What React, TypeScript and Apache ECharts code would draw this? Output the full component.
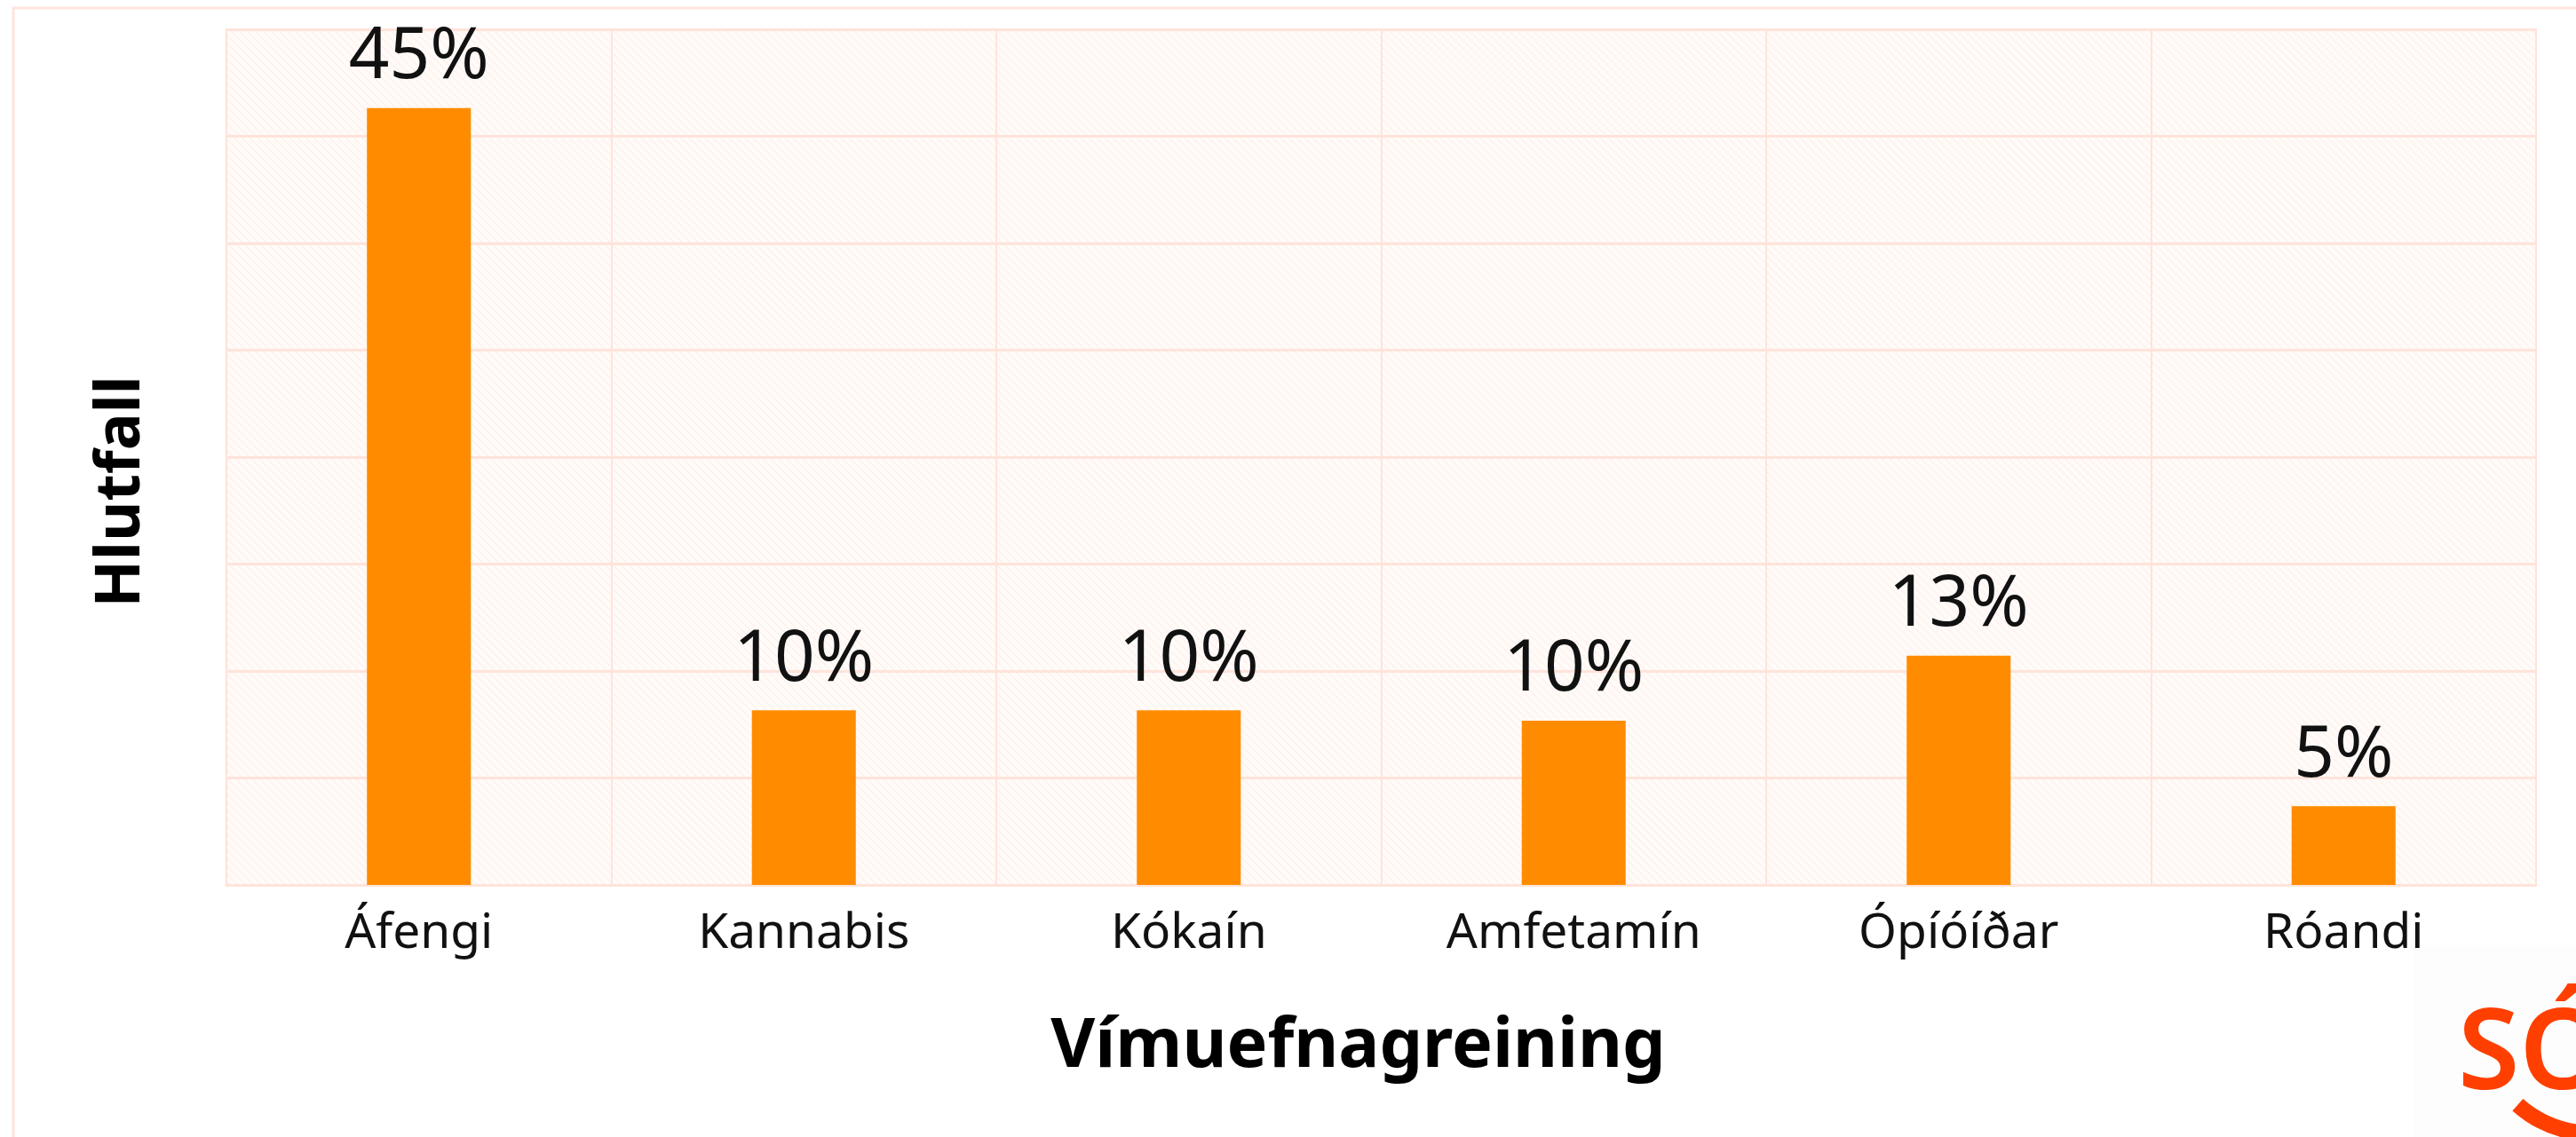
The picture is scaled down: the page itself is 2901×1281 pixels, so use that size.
import React, { useEffect, useRef } from "react";
import * as echarts from "echarts";

const categories = ["Áfengi", "Kannabis", "Kókaín", "Amfetamín", "Ópíóíðar", "Róandi"];
const shares = [45.4, 10.2, 10.2, 9.6, 13.4, 4.6];
const yMax = 50;
const yStep = 6.25;
const xTitle = "Vímuefnagreining";
const yTitle = "Hlutfall";
const logoText = "SÓ";

function makeHatch() {
  const s = 9;
  const c = document.createElement("canvas");
  c.width = s;
  c.height = s;
  const ctx = c.getContext("2d");
  if (ctx) {
    ctx.fillStyle = "#fffbf9";
    ctx.fillRect(0, 0, s, s);
    ctx.strokeStyle = "rgba(255,205,190,0.28)";
    ctx.lineWidth = 1.2;
    ctx.beginPath();
    ctx.moveTo(-1, -1);
    ctx.lineTo(s + 1, s + 1);
    ctx.moveTo(-1, s - 1);
    ctx.lineTo(1, s + 1);
    ctx.moveTo(s - 1, -1);
    ctx.lineTo(s + 1, 1);
    ctx.stroke();
  }
  return { image: c, repeat: "repeat", imageWidth: s, imageHeight: s };
}

export default function App() {
  const ref = useRef<HTMLDivElement>(null);
  useEffect(() => {
    if (!ref.current) return;
    const chart = echarts.init(ref.current, undefined, { renderer: "svg" });
    const lineColor = "#ffe3da";
    const font = "'Noto Sans', 'Open Sans', sans-serif";
    chart.setOption({
      animation: false,
      backgroundColor: "#ffffff",
      textStyle: { fontFamily: font },
      grid: {
        left: 255,
        right: 45,
        top: 33,
        bottom: 284,
        show: true,
        backgroundColor: makeHatch() as any,
        borderColor: lineColor,
        borderWidth: 2,
      },
      xAxis: {
        type: "category",
        data: categories,
        name: xTitle,
        nameLocation: "middle",
        nameGap: 137,
        nameTextStyle: {
          fontSize: 77,
          fontWeight: "bold",
          color: "#000",
          fontFamily: font,
          padding: [0, 52, 0, 0],
        },
        axisLine: { show: true, lineStyle: { color: lineColor, width: 3 } },
        axisTick: { show: false },
        axisLabel: { fontSize: 55, color: "#111", margin: 22, fontFamily: font },
        splitLine: { show: true, lineStyle: { color: lineColor, width: 2 } },
      },
      yAxis: {
        type: "value",
        min: 0,
        max: yMax,
        interval: yStep,
        name: yTitle,
        nameLocation: "middle",
        nameGap: 90,
        nameTextStyle: {
          fontSize: 70,
          fontWeight: "bold",
          color: "#000",
          fontFamily: font,
          padding: [0, 78, 0, 0],
        },
        axisLine: { show: false },
        axisTick: { show: false },
        axisLabel: { show: false },
        splitLine: { show: true, lineStyle: { color: lineColor, width: 3 } },
      },
      series: [
        {
          type: "bar",
          data: shares,
          barWidth: "27%",
          itemStyle: { color: "#ff8c00" },
          label: {
            show: true,
            position: "top",
            distance: 25,
            fontSize: 80,
            color: "#111",
            fontFamily: font,
            formatter: (p: any) => Math.round(p.value) + "%",
          },
        },
      ],
      graphic: [
        {
          type: "rect",
          z: -10,
          silent: true,
          shape: { x: 15, y: 9, width: 3000, height: 2000 },
          style: { fill: "none", stroke: "#ffe4dc", lineWidth: 3 },
        },
        {
          type: "rect",
          silent: true,
          shape: { x: 2718, y: 1065, width: 300, height: 300 },
          style: { fill: "#fdfdfd" },
        },
        {
          type: "text",
          silent: true,
          x: 2768,
          y: 1178,
          style: {
            text: logoText,
            font: "600 126px 'Noto Sans', sans-serif",
            fill: "#ff3f00",
            verticalAlign: "middle",
            align: "left",
          },
        },
        {
          type: "arc",
          silent: true,
          shape: { cx: 2920, cy: 1150, r: 127, startAngle: 1.3, endAngle: 2.3 },
          style: { stroke: "#ff3f00", lineWidth: 18, fill: "none" },
        },
      ],
    });
    return () => chart.dispose();
  }, []);
  return (
    <div
      ref={ref}
      style={{ position: "fixed", left: 0, top: 0, width: 2901, height: 1281 }}
    />
  );
}
